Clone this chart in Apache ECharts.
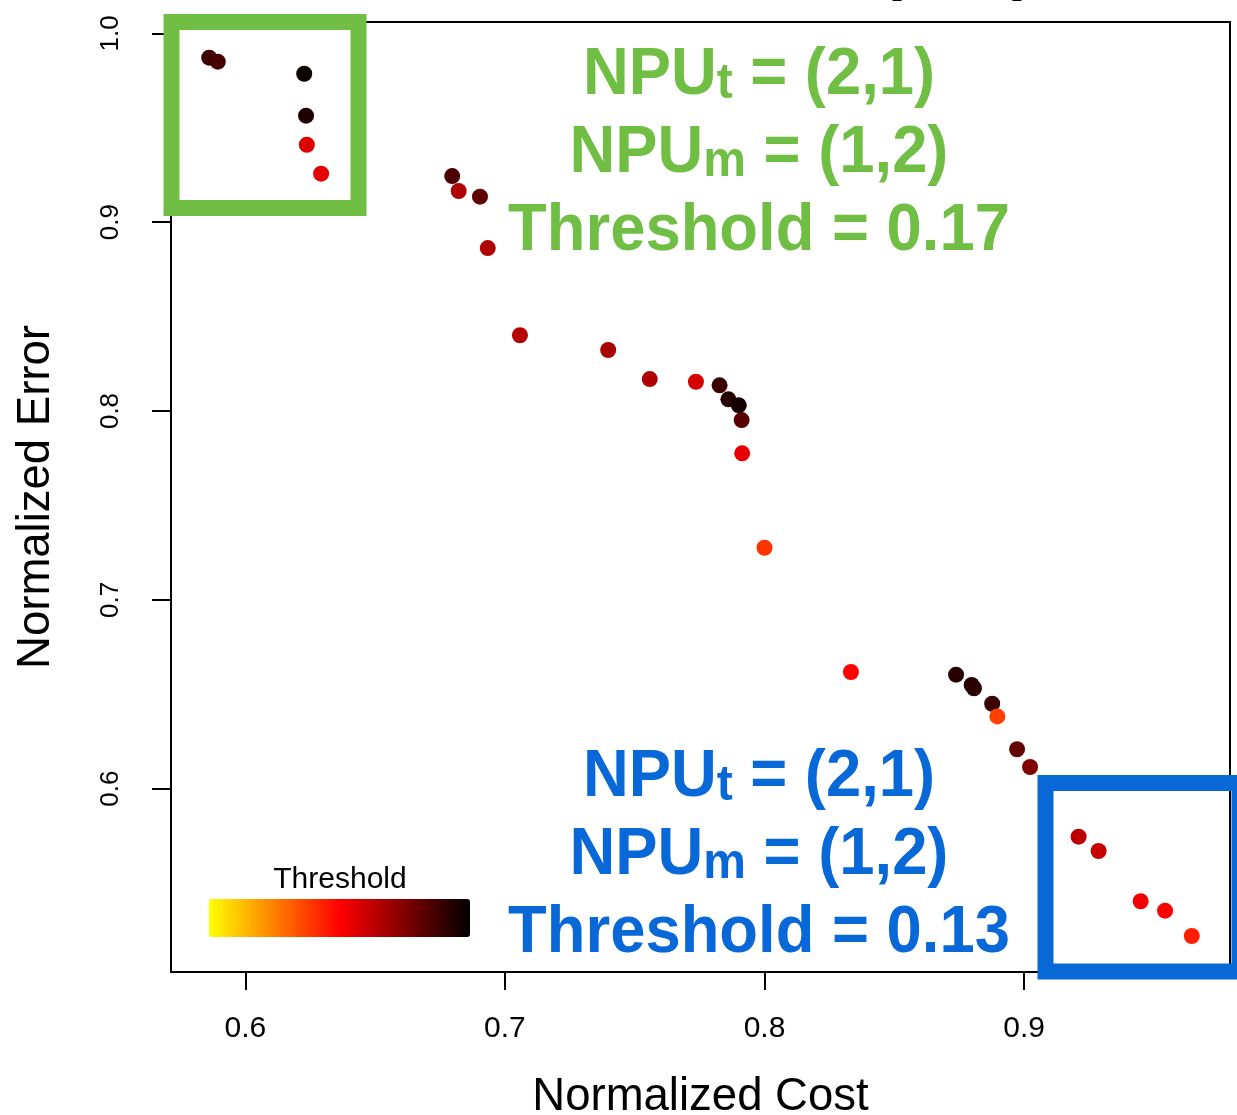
<!DOCTYPE html>
<html>
<head>
<meta charset="utf-8">
<title>Normalized Cost vs Normalized Error</title>
<script src="https://cdn.jsdelivr.net/npm/echarts@6/dist/echarts.min.js"></script>
<style>
  html, body { margin: 0; padding: 0; background: #fff; }
  #chart { width: 1237px; height: 1115px; }
</style>
</head>
<body>
<div id="chart"></div>
<script>
// values
var costs = [
  0.5861, 0.5894, 0.6227, 0.6234, 0.6237, 0.6292,
  0.6797, 0.6822, 0.6904, 0.6934, 0.7058, 0.7398,
  0.7558, 0.7736, 0.7827, 0.7861, 0.7901, 0.7912,
  0.7914, 0.8000, 0.8333, 0.8738, 0.8798, 0.8807,
  0.8877, 0.8897, 0.8973, 0.9023, 0.9210, 0.9287,
  0.9449, 0.9543, 0.9646
];
var errors = [
  0.9871, 0.9850, 0.9786, 0.9564, 0.9410, 0.9257,
  0.9244, 0.9165, 0.9135, 0.8863, 0.8401, 0.8323,
  0.8169, 0.8155, 0.8136, 0.8062, 0.8030, 0.7952,
  0.7776, 0.7276, 0.6618, 0.6604, 0.6549, 0.6532,
  0.6450, 0.6383, 0.6209, 0.6115, 0.5746, 0.5670,
  0.5404, 0.5354, 0.5220
];
var thresholds = [
  0.176, 0.172, 0.196, 0.188, 0.113, 0.110,
  0.171, 0.131, 0.162, 0.131, 0.129, 0.134,
  0.131, 0.117, 0.177, 0.184, 0.192, 0.165,
  0.110, 0.080, 0.100, 0.184, 0.186, 0.184,
  0.177, 0.075, 0.160, 0.150, 0.127, 0.122,
  0.106, 0.100, 0.088
];
var xTicks = [0.6, 0.7, 0.8, 0.9];
var yTicks = [0.6, 0.7, 0.8, 0.9, 1.0];

var FONT = 'Liberation Sans, Arial, Helvetica, sans-serif';
var GREEN = '#70bf44';
var BLUE = '#0868d8';

var points = costs.map(function (c, i) {
  return [c, errors[i], thresholds[i]];
});

function noteText(thr) {
  return '{a|NPU}{s|t}{a| = (2,1)}\n{a|NPU}{s|m}{a| = (1,2)}\n{a|Threshold = ' + thr + '}';
}
function noteRich() {
  return {
    a: { fontSize: 66, fontWeight: 'bold', fontFamily: FONT, lineHeight: 78, verticalAlign: 'bottom' },
    s: { fontSize: 50, fontWeight: 'bold', fontFamily: FONT, lineHeight: 74, verticalAlign: 'bottom' }
  };
}

var chart = echarts.init(document.getElementById('chart'));

var option = {
  animation: false,
  backgroundColor: '#fff',
  textStyle: { fontFamily: FONT },
  grid: {
    left: 171, right: 7, top: 22, bottom: 143,
    outerBoundsMode: 'none',
    containLabel: false,
    show: true, borderColor: '#000', borderWidth: 2
  },
  xAxis: {
    type: 'value',
    min: 0.57138, max: 0.97932,
    name: 'Normalized Cost',
    nameLocation: 'middle',
    nameGap: 102,
    nameTextStyle: { fontSize: 45.5, color: '#000', fontFamily: FONT },
    splitLine: { show: false },
    axisLine: { show: true, onZero: false, lineStyle: { color: '#000', width: 2 } },
    axisTick: { show: true, length: 18, customValues: xTicks, lineStyle: { color: '#000', width: 2 } },
    axisLabel: {
      customValues: xTicks, fontSize: 30, color: '#000', margin: 42,
      formatter: function (v) { return v.toFixed(1); }
    }
  },
  yAxis: {
    type: 'value',
    min: 0.50294, max: 1.00599,
    name: 'Normalized Error',
    nameLocation: 'middle',
    nameGap: 112,
    nameTextStyle: { fontSize: 45.5, color: '#000', fontFamily: FONT },
    splitLine: { show: false },
    axisLine: { show: true, onZero: false, lineStyle: { color: '#000', width: 2 } },
    axisTick: { show: true, length: 19, customValues: yTicks, lineStyle: { color: '#000', width: 2 } },
    axisLabel: {
      customValues: yTicks, fontSize: 26, color: '#000', margin: 47, rotate: 90,
      formatter: function (v) { return v.toFixed(1); }
    }
  },
  visualMap: {
    type: 'continuous',
    seriesIndex: 0,
    dimension: 2,
    min: 0, max: 0.2,
    orient: 'horizontal',
    left: 209, top: 899,
    itemWidth: 38, itemHeight: 261,
    padding: 0,
    calculable: false,
    hoverLink: false,
    inRange: { color: ['#ffff00', '#ff0000', '#000000'] }
  },
  series: [{
    type: 'scatter',
    data: points,
    symbolSize: 16,
    itemStyle: { opacity: 1 }
  }],
  graphic: [
    {
      type: 'text', x: 340, y: 880, z: 50,
      style: { text: 'Threshold', fontSize: 30, fontFamily: FONT, fill: '#000', align: 'center', verticalAlign: 'middle' }
    },
    {
      type: 'text', x: 759, y: 31, scaleX: 0.96, z: 50,
      style: { text: noteText('0.17'), rich: noteRich(), fill: GREEN, align: 'center', verticalAlign: 'top' }
    },
    {
      type: 'text', x: 759, y: 733, scaleX: 0.96, z: 50,
      style: { text: noteText('0.13'), rich: noteRich(), fill: BLUE, align: 'center', verticalAlign: 'top' }
    },
    {
      // title above the plot, cut off by the top edge of the picture
      type: 'text', x: 880, y: -31.5, z: 50,
      style: { text: '(2, 1)', fontSize: 66, fontWeight: 'bold', fontFamily: FONT, fill: '#000', align: 'left', verticalAlign: 'middle' }
    },
    {
      type: 'rect', z: 60,
      shape: { x: 171.5, y: 22, width: 187, height: 186 },
      style: { fill: 'none', stroke: GREEN, lineWidth: 16 }
    },
    {
      type: 'rect', z: 60,
      shape: { x: 1045.5, y: 783, width: 194, height: 188.5 },
      style: { fill: 'none', stroke: BLUE, lineWidth: 16 }
    }
  ]
};

chart.setOption(option);
</script>
</body>
</html>
